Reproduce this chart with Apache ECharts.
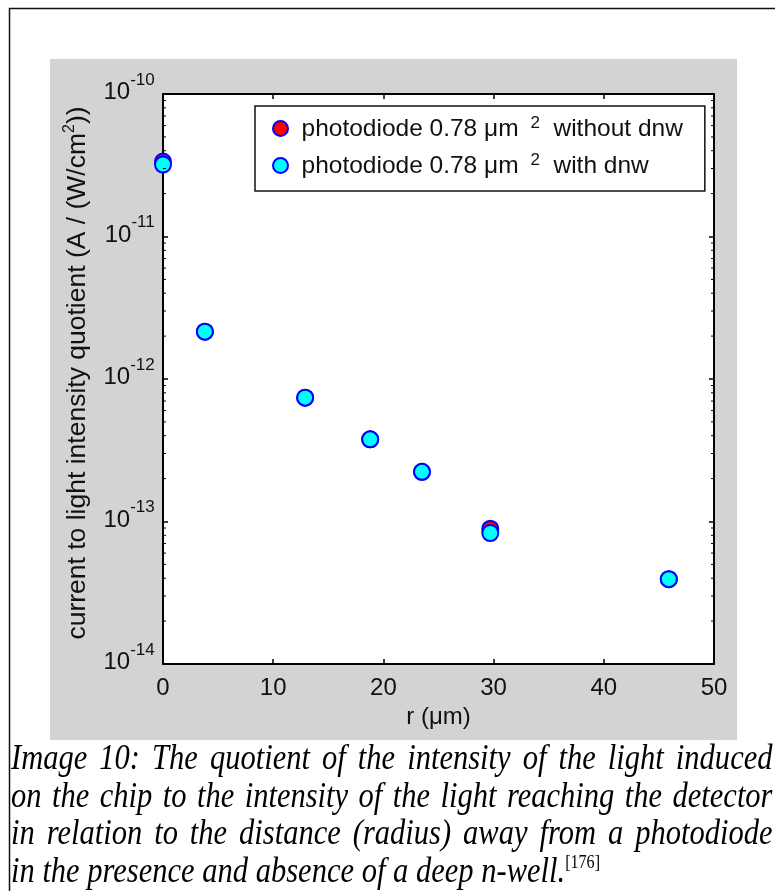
<!DOCTYPE html>
<html>
<head>
<meta charset="utf-8">
<script src="https://cdn.jsdelivr.net/npm/echarts@6/dist/echarts.min.js"></script>
<style>
  html, body { margin: 0; padding: 0; background: #fff; }
  #wrap { position: relative; width: 775px; height: 891px; overflow: hidden; }
  #main { width: 775px; height: 891px; }
  #caption {
    position: absolute; left: 11px; top: 739px; width: 898px;
    transform: scaleX(0.848); transform-origin: 0 0;
    font: italic 36px/37.5px "Liberation Serif", "Times New Roman", serif;
    color: #000; white-space: nowrap;
  }
  #caption .j { text-align: justify; text-align-last: justify; }
  #caption sup { font-size: 19px; line-height: 0; font-style: normal; vertical-align: 14px; }
</style>
</head>
<body>
<div id="wrap">
  <div id="main"></div>
  <div id="caption"></div>
</div>
<script>
// r (um) and quotient values
var radius = [0, 3.8, 12.9, 18.8, 23.5, 29.7, 45.9];
var withoutDnw = [3.36e-11, 2.15e-12, 7.4e-13, 3.77e-13, 2.23e-13, 8.9e-14, 3.94e-14];
var withDnw = [3.2e-11, 2.15e-12, 7.4e-13, 3.77e-13, 2.23e-13, 8.3e-14, 3.94e-14];
var seriesNames = ['photodiode 0.78 um2 without dnw', 'photodiode 0.78 um2 with dnw'];
var legendTail = ['  without dnw', '  with dnw'];
var xTicks = [0, 10, 20, 30, 40, 50];
var captionLines = [
    'Image 10: The quotient of the intensity of the light induced',
    'on the chip to the intensity of the light reaching the detector',
    'in relation to the distance (radius) away from a photodiode',
    'in the presence and absence of a deep n-well.'
];
var captionRef = '[176]';

// minor ticks of the log axis (2..9 in every decade)
var minorTicks = [];
for (var d = -14; d < -10; d++) {
    for (var m = 2; m <= 9; m++) {
        minorTicks.push([0, m * Math.pow(10, d)]);
    }
}

// caption, justified like the source document
var cap = document.getElementById('caption');
captionLines.forEach(function (t, i) {
    var div = document.createElement('div');
    div.textContent = t;
    if (i < captionLines.length - 1) {
        div.className = 'j';
    } else {
        var sup = document.createElement('sup');
        sup.textContent = captionRef;
        div.appendChild(sup);
    }
    cap.appendChild(div);
});

var FONT = 'Liberation Sans, Arial, sans-serif';
var myChart = echarts.init(document.getElementById('main'));

function pairs(xs, ys) {
    return xs.map(function (x, i) { return [x, ys[i]]; });
}

var axisCommon = {
    axisLine: { show: true, onZero: false, lineStyle: { color: '#000', width: 2 } },
    axisTick: { show: true, inside: true, length: 5, lineStyle: { color: '#000', width: 1.5 } },
    splitLine: { show: false }
};

var option = {
    backgroundColor: '#fff',
    animation: false,
    textStyle: { fontFamily: FONT },
    graphic: [
        { type: 'rect', z: -10, shape: { x: 9.5, y: 8.5, width: 800, height: 900 },
          style: { fill: '#fff', stroke: '#111', lineWidth: 1.5 } },
        { type: 'rect', z: -9, shape: { x: 50, y: 59, width: 687, height: 681 },
          style: { fill: '#d3d3d3' } }
    ],
    grid: {
        left: 163, top: 94, right: 61, bottom: 227,
        show: true, backgroundColor: '#fff', borderWidth: 0
    },
    legend: {
        data: seriesNames,
        orient: 'vertical',
        left: 255, top: 106,
        padding: [9, 22, 12, 17],
        itemGap: 10,
        itemWidth: 26, itemHeight: 15,
        icon: 'circle',
        backgroundColor: '#fff',
        borderColor: '#111', borderWidth: 1.5,
        formatter: function (name) {
            var i = seriesNames.indexOf(name);
            return '{a|photodiode 0.78 \u03bcm }{s|2}{a|' + legendTail[i] + '}';
        },
        textStyle: {
            padding: [0, 0, 0, 3],
            rich: {
                a: { fontFamily: FONT, fontSize: 24.5, color: '#111', lineHeight: 27, verticalAlign: 'bottom' },
                s: { fontFamily: FONT, fontSize: 17, color: '#111', lineHeight: 17, verticalAlign: 'top', padding: [0, 0, 0, 5] }
            }
        }
    },
    xAxis: [
        Object.assign({
            type: 'value', position: 'bottom', min: 0, max: 50, interval: 10,
            name: 'r (\u03bcm)', nameLocation: 'middle', nameGap: 41,
            nameTextStyle: { fontFamily: FONT, fontSize: 24, color: '#111' },
            axisLabel: {
                margin: 12, fontFamily: FONT, fontSize: 24, color: '#111',
                customValues: xTicks
            }
        }, axisCommon),
        Object.assign({
            type: 'value', position: 'top', min: 0, max: 50, interval: 10,
            axisLabel: { show: false }
        }, axisCommon)
    ],
    yAxis: [
        Object.assign({
            type: 'log', logBase: 10, position: 'left', min: 1e-14, max: 1e-10,
            name: '{a|current to light intensity quotient (A / (W/cm}{s|2}{a|))}',
            nameLocation: 'middle', nameGap: 72, nameRotate: 90,
            nameTextStyle: {
                padding: [0, 0, 0, 12],
                rich: {
                    a: { fontFamily: FONT, fontSize: 26.5, color: '#111', lineHeight: 29, verticalAlign: 'bottom' },
                    s: { fontFamily: FONT, fontSize: 16, color: '#111', lineHeight: 16, verticalAlign: 'top' }
                }
            },
            axisLabel: {
                margin: 8,
                padding: [0, 0, 12, 0],
                formatter: function (v) {
                    return '{b|10}{s|' + Math.round(Math.log10(v)) + '}{h| }';
                },
                rich: {
                    b: { fontFamily: FONT, fontSize: 24, color: '#111', lineHeight: 24, verticalAlign: 'bottom' },
                    s: { fontFamily: FONT, fontSize: 17, color: '#111', lineHeight: 17, verticalAlign: 'top' },
                    h: { fontSize: 1, lineHeight: 33, verticalAlign: 'bottom' }
                }
            }
        }, axisCommon),
        Object.assign({
            type: 'log', logBase: 10, position: 'right', min: 1e-14, max: 1e-10,
            axisLabel: { show: false }
        }, axisCommon)
    ],
    series: [
        {
            name: seriesNames[0], type: 'scatter', symbol: 'circle', symbolSize: 16,
            itemStyle: { color: '#ff0000', borderColor: '#0000ff', borderWidth: 2, opacity: 1 },
            data: pairs(radius, withoutDnw), clip: false, z: 3
        },
        {
            name: seriesNames[1], type: 'scatter', symbol: 'circle', symbolSize: 16,
            itemStyle: { color: '#00ffff', borderColor: '#0000ff', borderWidth: 2, opacity: 1 },
            data: pairs(radius, withDnw), clip: false, z: 4
        },
        {
            type: 'custom', silent: true, clip: false, z: 5,
            data: minorTicks,
            encode: { x: 0, y: 1 },
            renderItem: function (params, api) {
                var v = api.value(1);
                var l = api.coord([0, v]);
                var r = api.coord([50, v]);
                var st = { stroke: '#000', lineWidth: 1 };
                return {
                    type: 'group',
                    children: [
                        { type: 'line', shape: { x1: l[0], y1: l[1], x2: l[0] + 3, y2: l[1] }, style: st },
                        { type: 'line', shape: { x1: r[0], y1: r[1], x2: r[0] - 3, y2: r[1] }, style: st }
                    ]
                };
            }
        }
    ]
};

myChart.setOption(option);
</script>
</body>
</html>
